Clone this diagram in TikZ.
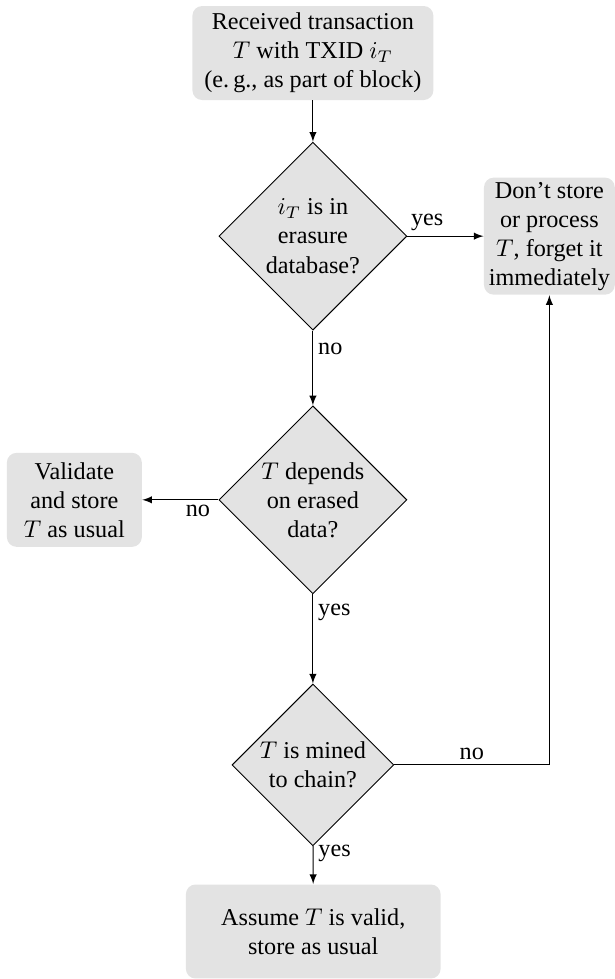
\documentclass[tikz,border=0pt]{standalone}
\usepackage{fontspec}
\setmainfont{LiberationSerif}[
    Extension=.ttf,
    UprightFont=*-Regular,
    BoldFont=*-Bold,
    ItalicFont=*-Italic,
    BoldItalicFont=*-BoldItalic]
\usetikzlibrary{shapes.geometric, positioning}

\begin{document}
\begin{tikzpicture}[>=latex, thin]
    \tikzset{
        box/.style={rectangle, rounded corners=4pt, fill=black!11, align=center,
            inner sep=1pt, minimum height=1.365cm},
        test/.style={diamond, aspect=1, draw=black, fill=black!11, align=center,
            inner sep=0pt, minimum size=2.73cm},
        branch_label/.style={font=\normalsize, inner sep=2pt}
    }
    \useasboundingbox (0, 0) rectangle (8.93, -14.22);

    \node[box, minimum width=3.5cm] (received) at (4.545, -0.77)
        {Received transaction\\$T$ with TXID $i_T$\\(e.\,g., as part of block)};
    \node[test] (erased) at (4.545, -3.43)
        {$i_T$ is in\\erasure\\database?};
    \node[box, minimum width=1.9cm, minimum height=1.7cm] (forget) at (7.98, -3.43)
        {Don't store\\or process\\$T$, forget it\\immediately};
    \node[test] (depends) at (4.545, -7.26)
        {$T$ depends\\on erased\\data?};
    \node[box, minimum width=1.96cm] (validate) at (1.08, -7.26)
        {Validate\\and store\\$T$ as usual};
    \node[test, minimum size=2.35cm] (mined) at (4.545, -11.11)
        {$T$ is mined\\to chain?};
    \node[box, minimum width=3.7cm] (assume) at (4.55, -13.53)
        {Assume $T$ is valid,\\store as usual};

    \draw[->] (received) -- (erased);
    \draw[->] (erased) -- node[branch_label, pos=0.26, above] {yes} (forget);
    \draw[->] (erased) -- node[branch_label, pos=0.24, right] {no} (depends);
    \draw[->] (depends) -- node[branch_label, pos=0.27, below] {no} (validate);
    \draw[->] (depends) -- node[branch_label, pos=0.2, right] {yes} (mined);
    \draw[->] (mined.east) -| node[branch_label, pos=0.25, above] {no} (forget.south);
    \draw[->] (mined) -- node[branch_label, pos=0.2, right] {yes} (assume);

\end{tikzpicture}
\end{document}
